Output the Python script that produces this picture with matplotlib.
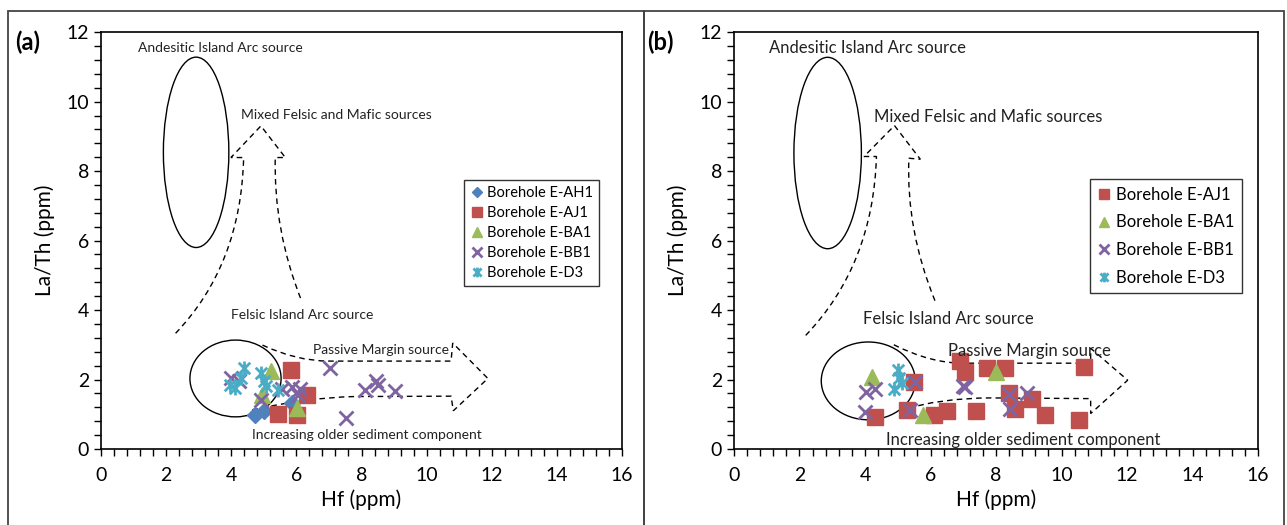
"""
La/Th vs Hf provenance diagrams for boreholes (panels a and b)
"""

import matplotlib.pyplot as plt
from matplotlib.patches import Ellipse, PathPatch, Rectangle
from matplotlib.path import Path
from matplotlib.lines import Line2D
from matplotlib.ticker import MultipleLocator

plt.rcParams["font.family"] = ["Lato", "DejaVu Sans"]

# ------------------------------------------------------------
# DATA
# ------------------------------------------------------------
# panel (a)
a_ah1_hf = [4.72, 5.00, 5.85]
a_ah1_lath = [0.98, 1.10, 1.32]

a_aj1_hf = [5.82, 6.32, 5.42, 6.01]
a_aj1_lath = [2.26, 1.55, 1.02, 0.97]

a_ba1_hf = [5.23, 4.95, 6.02]
a_ba1_lath = [2.25, 1.55, 1.19]

a_bb1_hf = [3.98, 4.25, 4.92, 5.55, 5.85, 6.12, 6.05, 7.03, 7.52, 8.11, 8.43, 8.50, 9.03]
a_bb1_lath = [2.05, 1.95, 1.42, 1.72, 1.78, 1.72, 1.55, 2.33, 0.89, 1.70, 1.95, 1.85, 1.66]

a_d3_hf = [3.95, 4.10, 4.30, 4.40, 4.90, 5.00, 5.08, 5.45]
a_d3_lath = [1.85, 1.75, 2.05, 2.33, 2.20, 1.95, 1.80, 1.70]

# panel (b)
b_aj1_hf = [4.31, 5.29, 5.50, 6.10, 6.49, 6.89, 7.04, 7.39, 7.71, 8.27, 8.40,
            8.59, 9.09, 9.51, 10.52, 10.69]
b_aj1_lath = [0.92, 1.11, 1.94, 0.97, 1.08, 2.54, 2.23, 1.08, 2.32, 2.32, 1.60,
              1.16, 1.45, 0.99, 0.82, 2.35]

b_ba1_hf = [4.22, 5.78, 7.99]
b_ba1_lath = [2.08, 0.97, 2.23]

b_bb1_hf = [4.02, 4.31, 3.99, 5.38, 5.54, 7.04, 7.00, 8.40, 8.94, 8.43]
b_bb1_lath = [1.65, 1.74, 1.06, 1.11, 1.94, 1.79, 1.82, 1.57, 1.60, 1.16]

b_d3_hf = [5.00, 5.04, 4.90, 5.13]
b_d3_lath = [2.27, 2.03, 1.74, 1.89]

labels = ["Borehole E-AH1", "Borehole E-AJ1", "Borehole E-BA1",
          "Borehole E-BB1", "Borehole E-D3"]

# field guides (ellipses: centre, width, height) and dashed arrows
a_ellipses = [((2.92, 8.54), 2.01, 5.48), ((4.13, 2.03), 2.80, 2.21)]
b_ellipses = [((2.86, 8.52), 2.06, 5.51), ((4.10, 1.96), 2.87, 2.24)]

a_up_arrow = [(2.29, 3.33), (4.30, 5.30), (4.38, 8.39), (3.99, 8.39), (4.91, 9.30),
              (5.66, 8.39), (5.35, 8.39), (5.30, 6.30), (6.14, 4.31)]
b_up_arrow = [(2.19, 3.27), (4.25, 5.30), (4.35, 8.42), (3.97, 8.42), (4.90, 9.31),
              (5.69, 8.34), (5.34, 8.37), (5.25, 6.30), (6.14, 4.26)]
up_codes = [Path.MOVETO, Path.CURVE3, Path.CURVE3, Path.LINETO, Path.LINETO,
            Path.LINETO, Path.LINETO, Path.CURVE3, Path.CURVE3]

a_right_arrow = [(4.96, 2.99), (6.00, 2.53), (7.00, 2.53), (10.75, 2.53), (10.80, 3.05),
                 (11.88, 2.03), (10.82, 1.10), (10.75, 1.52), (7.80, 1.51), (6.30, 1.48),
                 (4.55, 1.11)]
b_right_arrow = [(4.88, 3.00), (6.00, 2.47), (7.00, 2.47), (10.89, 2.47), (10.89, 2.90),
                 (12.02, 1.98), (10.89, 1.02), (10.89, 1.45), (7.84, 1.47), (6.30, 1.47),
                 (5.06, 1.11)]
right_codes = [Path.MOVETO, Path.CURVE3, Path.CURVE3, Path.LINETO, Path.LINETO,
               Path.LINETO, Path.LINETO, Path.LINETO, Path.LINETO, Path.CURVE3,
               Path.CURVE3]

field_names = ["Andesitic Island Arc source", "Mixed Felsic and Mafic sources",
               "Felsic Island Arc source", "Passive Margin source",
               "Increasing older sediment component"]
a_name_pos = [(1.15, 11.55), (4.31, 9.62), (3.99, 3.86), (6.52, 2.84), (4.65, 0.40)]
b_name_pos = [(1.06, 11.54), (4.28, 9.56), (3.94, 3.75), (6.53, 2.83), (4.64, 0.26)]

# ------------------------------------------------------------
# STYLES
# ------------------------------------------------------------
COLORS = ["#4F81BD", "#C0504D", "#9BBB59", "#8064A2", "#4BACC6"]
star = Path([(-1, -1), (1, 1), (-1, 1), (1, -1), (0, -1.2), (0, 1.2)],
            [Path.MOVETO, Path.LINETO, Path.MOVETO, Path.LINETO, Path.MOVETO, Path.LINETO])
MARKERS = ["D", "s", "^", "x", star]
SIZES = [8, 11, 11, 10, 10]


def draw_panel(ax, series, ellipses, up_arrow, right_arrow, name_pos,
               text_size, legend_size, legend_anchor, spacing, tag):
    for ell in ellipses:
        ax.add_patch(Ellipse(ell[0], ell[1], ell[2], fill=False, ec="black", lw=1))
    for verts, codes in [(up_arrow, up_codes), (right_arrow, right_codes)]:
        ax.add_patch(PathPatch(Path(verts, codes), fill=False, ec="black",
                               lw=1, ls=(0, (4, 3))))
    for name, (x, y) in zip(field_names, name_pos):
        ax.text(x, y, name, fontsize=text_size, va="center", ha="left", color="#222222")

    handles = []
    for idx, hf, lath in series:
        mk = MARKERS[idx]
        ax.plot(hf, lath, ls="none", marker=mk, ms=SIZES[idx], color=COLORS[idx],
                mec=COLORS[idx], mew=2 if idx >= 3 else 1)
        handles.append(Line2D([], [], ls="none", marker=mk, ms=SIZES[idx] * 0.7,
                              color=COLORS[idx], mew=2 if idx >= 3 else 1,
                              label=labels[idx]))

    ax.set_xlim(0, 16)
    ax.set_ylim(0, 12)
    ax.xaxis.set_major_locator(MultipleLocator(2))
    ax.xaxis.set_minor_locator(MultipleLocator(0.4))
    ax.yaxis.set_major_locator(MultipleLocator(2))
    ax.yaxis.set_minor_locator(MultipleLocator(0.4))
    ax.tick_params(which="both", direction="out", length=5, width=1, labelsize=14)
    ax.tick_params(axis="x", pad=8)
    ax.set_xlabel("Hf (ppm)", fontsize=15)
    ax.set_ylabel("La/Th (ppm)", fontsize=15, labelpad=8)
    for sp in ax.spines.values():
        sp.set_linewidth(1.2)

    leg = ax.legend(handles=handles, loc="upper left", bbox_to_anchor=legend_anchor,
                    fontsize=legend_size, frameon=True, fancybox=False,
                    edgecolor="black", handlelength=0.8, handletextpad=0.3,
                    borderpad=0.45, labelspacing=spacing)
    leg.get_frame().set_linewidth(1)
    ax.text(-0.165, 0.975, tag, transform=ax.transAxes, fontsize=17,
            fontweight="bold", va="center")


# ------------------------------------------------------------
# PLOT
# ------------------------------------------------------------
fig = plt.figure(figsize=(12.87, 5.25), dpi=100)

ax_a = fig.add_axes([0.0785, 0.1448, 0.4048, 0.794])
ax_b = fig.add_axes([0.5703, 0.1448, 0.4072, 0.794])

series_a = [(0, a_ah1_hf, a_ah1_lath), (1, a_aj1_hf, a_aj1_lath),
            (2, a_ba1_hf, a_ba1_lath), (3, a_bb1_hf, a_bb1_lath),
            (4, a_d3_hf, a_d3_lath)]
series_b = [(1, b_aj1_hf, b_aj1_lath), (2, b_ba1_hf, b_ba1_lath),
            (3, b_bb1_hf, b_bb1_lath), (4, b_d3_hf, b_d3_lath)]

draw_panel(ax_a, series_a, a_ellipses, a_up_arrow, a_right_arrow, a_name_pos,
           10, 10.5, (0.683, 0.663), 0.4, "(a)")
draw_panel(ax_b, series_b, b_ellipses, b_up_arrow, b_right_arrow, b_name_pos,
           12, 12, (0.664, 0.667), 0.7, "(b)")

# panel frames
for x0, x1 in [(8 / 1287, 644 / 1287), (644 / 1287, 1284 / 1287)]:
    fig.add_artist(Rectangle((x0, -0.05), x1 - x0, 1.05 - 11 / 525, fill=False,
                             ec="#444444", lw=1.3, transform=fig.transFigure))

fig.savefig("out.png", dpi=100)
plt.close()
